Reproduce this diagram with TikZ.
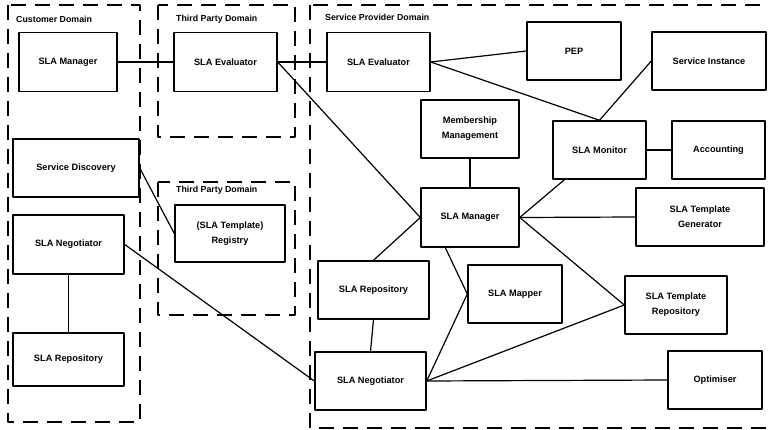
\documentclass[tikz,border=0pt]{standalone}
\usepackage{fontspec}
\setmainfont{Liberation Sans}
\usetikzlibrary{positioning}

\begin{document}
\begin{tikzpicture}[x=1pt, y=-1pt, line cap=round, line join=round]
	
	\tikzset{
		zone/.style={line width=1.3pt, line cap=butt, dash pattern=on 15pt off 9pt},
		ztitle/.style={anchor=west, inner sep=0pt, font=\fontsize{8.8}{10}\selectfont\bfseries},
		box/.style 2 args={draw, line width=1.4pt, fill=white, align=center, inner sep=2pt,
			minimum width=#1, minimum height=#2, font=\fontsize{9.2}{15}\selectfont\bfseries},
		link/.style={line width=1.2pt}
	}
	
	\useasboundingbox (0,0) rectangle (768,430);
	
	% domains
	\draw[zone] (8,5) rectangle (140,422);
	\draw[zone] (158,5) rectangle (295,137);
	\draw[zone] (158,182) rectangle (295,315);
	\draw[zone] (310,5) rectangle (772,428);
	
	\node[ztitle] (custT) at (16,19) {Customer Domain};
	\node[ztitle] (tpaT) at (176,19) {Third Party Domain};
	\node[ztitle] (tpbT) at (176,190) {Third Party Domain};
	\node[ztitle] (spT) at (325,17) {Service Provider Domain};
	
	% customer domain
	\node[box={98}{59}] (cman) at (68,62) {SLA Manager};
	\node[box={126}{58}] (disc) at (76,168) {Service Discovery};
	\node[box={111}{59}] (cneg) at (68.5,244.5) {SLA Negotiator};
	\node[box={111}{53}] (crep) at (68.5,359.5) {SLA Repository};
	
	% third party domains
	\node[box={103}{59}] (teval) at (225.5,62) {SLA Evaluator};
	\node[box={110}{57}] (reg) at (230,233.5) {(SLA Template)\\Registry};
	
	% service provider domain
	\node[box={103}{59}] (seval) at (378.5,62) {SLA Evaluator};
	\node[box={94}{58}] (pep) at (574,51) {PEP};
	\node[box={114}{58}] (inst) at (709,61) {Service Instance};
	\node[box={98}{58}] (memb) at (470,129) {Membership\\Management};
	\node[box={93}{58}] (mon) at (599.5,150) {SLA Monitor};
	\node[box={93}{58}] (acc) at (718.5,150) {Accounting};
	\node[box={98}{59}] (smgr) at (470,217.5) {SLA Manager};
	\node[box={128}{58}] (tgen) at (700,217) {SLA Template\\Generator};
	\node[box={111}{58}] (srep) at (373.5,290) {SLA Repository};
	\node[box={94}{58}] (map) at (515,294) {SLA Mapper};
	\node[box={102}{58}] (trep) at (676,305) {SLA Template\\Repository};
	\node[box={111}{58}] (sneg) at (370.5,381) {SLA Negotiator};
	\node[box={94}{58}] (opt) at (715,380) {Optimiser};
	
	\coordinate (mfoot) at ([xshift=25pt]smgr.south west);
	
	% links
	\draw[link] (cman.east) -- (teval.west);
	\draw[link] (teval.east) -- (seval.west);
	\draw[link] (teval.east) -- (smgr.west);
	\draw[link] (disc.east) -- (reg.west);
	\draw[link] (cneg.south) -- (crep.north);
	\draw[link] (cneg.east) -- (sneg.west);
	
	\draw[link] (seval.east) -- (pep.west);
	\draw[link] (seval.east) -- (mon.north);
	\draw[link] (mon.north) -- (inst.west);
	\draw[link] (mon.east) -- (acc.west);
	\draw[link] (memb.south) -- (smgr.north);
	\draw[link] (smgr.east) -- (mon);
	\draw[link] (smgr.east) -- (tgen.west);
	\draw[link] (smgr.east) -- (trep.west);
	\draw[link] (mfoot) -- (map.west);
	\draw[link] (srep.north) -- (smgr.west);
	\draw[link] (srep.south) -- (sneg.north);
	\draw[link] (sneg.east) -- (map.west);
	\draw[link] (sneg.east) -- (trep.west);
	\draw[link] (sneg.east) -- (opt.west);
	
\end{tikzpicture}
\end{document}
